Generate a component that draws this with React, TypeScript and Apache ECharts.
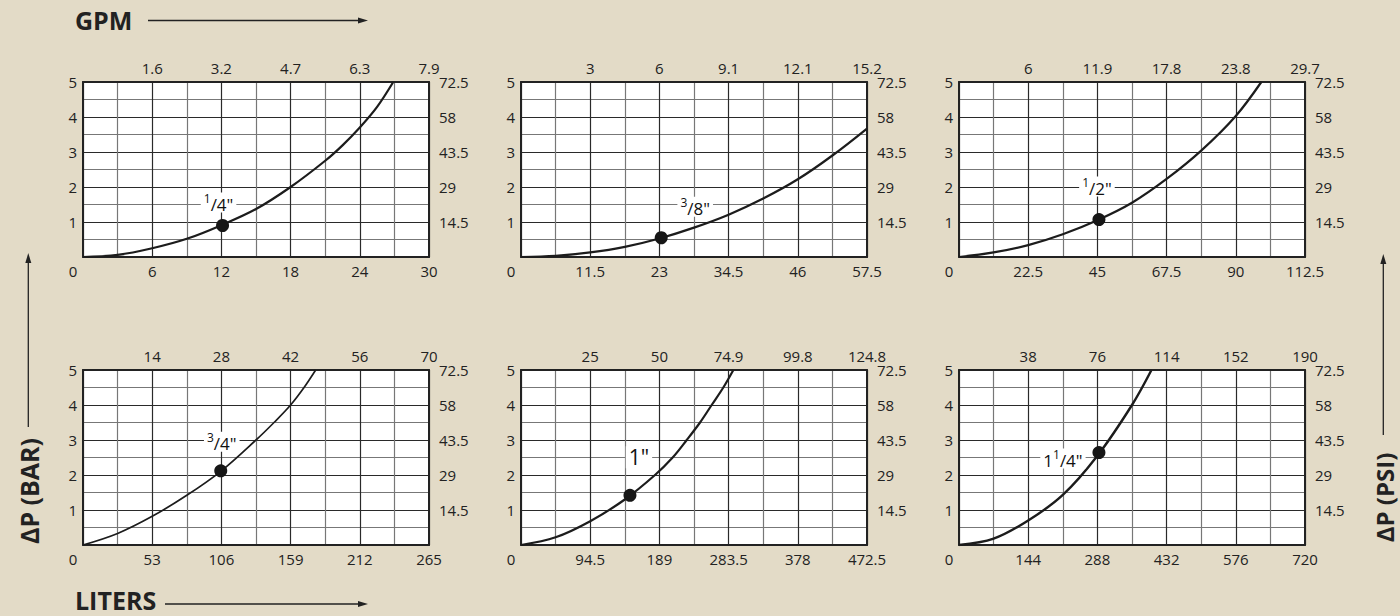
import React, { useEffect, useRef } from "react";
import * as echarts from "echarts";

// Pipe sizes (one panel each)
const sizeLabels = ['1/4"', '3/8"', '1/2"', '3/4"', '1"', '1 1/4"'];

// Bottom axis tick labels (liters) and top axis tick labels (GPM)
const litersTicks14 = ["6", "12", "18", "24", "30"];
const gpmTicks14 = ["1.6", "3.2", "4.7", "6.3", "7.9"];
const litersTicks38 = ["11.5", "23", "34.5", "46", "57.5"];
const gpmTicks38 = ["3", "6", "9.1", "12.1", "15.2"];
const litersTicks12 = ["22.5", "45", "67.5", "90", "112.5"];
const gpmTicks12 = ["6", "11.9", "17.8", "23.8", "29.7"];
const litersTicks34 = ["53", "106", "159", "212", "265"];
const gpmTicks34 = ["14", "28", "42", "56", "70"];
const litersTicks1 = ["94.5", "189", "283.5", "378", "472.5"];
const gpmTicks1 = ["25", "50", "74.9", "99.8", "124.8"];
const litersTicks114 = ["144", "288", "432", "576", "720"];
const gpmTicks114 = ["38", "76", "114", "152", "190"];

// Left (bar) and right (psi) axis tick labels
const barTicks = ["1", "2", "3", "4", "5"];
const psiTicks = ["14.5", "29", "43.5", "58", "72.5"];

// Pressure-drop curves [liters, bar]
const curve14 = [[0, 0], [3, 0.06], [6, 0.25], [9, 0.52], [12, 0.91], [15, 1.37], [18, 2.0], [21, 2.75], [22.5, 3.19], [24, 3.7], [25.5, 4.29], [26.9, 5]];
const curve38 = [[0, 0], [5.75, 0.03], [11.5, 0.13], [17.25, 0.29], [23, 0.53], [28.75, 0.84], [34.5, 1.21], [40.25, 1.67], [46, 2.22], [51.75, 2.9], [57.5, 3.67]];
const curve12 = [[0, 0], [11.25, 0.13], [22.5, 0.34], [33.75, 0.65], [45, 1.05], [56.25, 1.55], [67.5, 2.23], [78.75, 3.04], [90, 4.03], [98.3, 5]];
const curve34 = [[0, 0], [26.5, 0.33], [53, 0.82], [79.5, 1.42], [106, 2.12], [132.5, 3.0], [146.3, 3.5], [159, 4.0], [169.3, 4.5], [178.2, 5]];
const curve1 = [[0, 0], [47.25, 0.22], [94.5, 0.68], [141.75, 1.3], [183, 2.0], [207.1, 2.5], [226.3, 3.0], [244.5, 3.5], [260.4, 4.0], [276.3, 4.5], [290, 5]];
const curve114 = [[0, 0], [72, 0.18], [144, 0.7], [216, 1.43], [288, 2.55], [360, 4.0], [400.5, 5]];

// Rated points (dots) [liters, bar]
const ratedPoints = [[12.1, 0.9], [23.3, 0.55], [45.5, 1.07], [105.5, 2.12], [148.8, 1.42], [291.2, 2.64]];

const litersTicksAll = [litersTicks14, litersTicks38, litersTicks12, litersTicks34, litersTicks1, litersTicks114];
const gpmTicksAll = [gpmTicks14, gpmTicks38, gpmTicks12, gpmTicks34, gpmTicks1, gpmTicks114];
const curvesAll = [curve14, curve38, curve12, curve34, curve1, curve114];

// layout / style (not data)
const gridLefts = [83, 521, 959];
const gridTops = [82, 370];
const GRID_W = 346;
const GRID_H = 175;
const labelOffsets = [[-4, -23], [34, -31], [-2, -33], [1, -29], [9, -38], [-36, 6]];
const lineWidths = [2.2, 2.2, 2.2, 1.7, 2.2, 2.4];

const FONT = '"Open Sans", "Noto Sans", sans-serif';
const TXT = "#222222";
const BG = "#e3dbc7";

function toRich(s: string): string {
  if (s.indexOf("/") < 0) return `{b|${s}}`;
  const parts = s.split(" ");
  const whole = parts.length > 1 ? parts[0] : "";
  const frac = parts[parts.length - 1];
  const [num, denq] = frac.split("/");
  return `${whole ? `{n|${whole}}` : ""}{s|${num}}{n|/${denq}}`;
}

export default function App() {
  const ref = useRef<HTMLDivElement>(null);
  useEffect(() => {
    if (!ref.current) return;
    const chart = echarts.init(ref.current, undefined, { renderer: "svg" });

    const grid: any[] = [];
    const xAxis: any[] = [];
    const yAxis: any[] = [];
    const series: any[] = [];

    const labelBase = { color: TXT, fontSize: 15, fontFamily: FONT };

    for (let i = 0; i < 6; i++) {
      const col = i % 3;
      const row = Math.floor(i / 3);
      const lt = litersTicksAll[i];
      const gt = gpmTicksAll[i];
      const max = parseFloat(lt[lt.length - 1]);
      const step = max / 5;
      grid.push({
        left: gridLefts[col],
        top: gridTops[row],
        width: GRID_W,
        height: GRID_H,
        show: true,
        backgroundColor: "#ffffff",
        borderWidth: 0,
      });
      const axisLine = { show: true, onZero: false, lineStyle: { color: "#222", width: 2 } };
      xAxis.push({
        gridIndex: i,
        type: "value",
        position: "bottom",
        min: 0,
        max,
        interval: step,
        axisLine,
        axisTick: { show: false },
        minorTick: { show: false, splitNumber: 2 },
        splitLine: { show: true, lineStyle: { color: "#2a2a2a", width: 1.2 } },
        minorSplitLine: { show: true, lineStyle: { color: "#777777", width: 1.2 } },
        axisLabel: {
          ...labelBase,
          margin: 6,
          showMinLabel: true,
          showMaxLabel: true,
          formatter: (v: number) => {
            const k = Math.round(v / step);
            if (k === 0) return "{z|0}";
            return lt[k - 1] ?? "";
          },
          rich: { z: { ...labelBase, padding: [0, 20, 0, 0] } },
        },
      });
      xAxis.push({
        gridIndex: i,
        type: "value",
        position: "top",
        min: 0,
        max,
        interval: step,
        axisLine,
        axisTick: { show: false },
        splitLine: { show: false },
        axisLabel: {
          ...labelBase,
          margin: 7,
          showMinLabel: true,
          showMaxLabel: true,
          formatter: (v: number) => {
            const k = Math.round(v / step);
            if (k === 0) return "";
            return gt[k - 1] ?? "";
          },
        },
      });
      yAxis.push({
        gridIndex: i,
        type: "value",
        position: "left",
        min: 0,
        max: 5,
        interval: 1,
        axisLine,
        axisTick: { show: false },
        minorTick: { show: false, splitNumber: 2 },
        splitLine: { show: true, lineStyle: { color: "#2a2a2a", width: 1.2 } },
        minorSplitLine: { show: true, lineStyle: { color: "#777777", width: 1.2 } },
        axisLabel: {
          ...labelBase,
          margin: 6,
          formatter: (v: number) => {
            const k = Math.round(v);
            return k === 0 ? "" : barTicks[k - 1] ?? "";
          },
        },
      });
      yAxis.push({
        gridIndex: i,
        type: "value",
        position: "right",
        min: 0,
        max: 5,
        interval: 1,
        axisLine,
        axisTick: { show: false },
        splitLine: { show: false },
        axisLabel: {
          ...labelBase,
          margin: 10,
          formatter: (v: number) => {
            const k = Math.round(v);
            return k === 0 ? "" : psiTicks[k - 1] ?? "";
          },
        },
      });
      series.push({
        type: "line",
        xAxisIndex: 2 * i,
        yAxisIndex: 2 * i,
        data: curvesAll[i],
        smooth: 0.35,
        showSymbol: false,
        clip: true,
        lineStyle: { color: "#1c1c1c", width: lineWidths[i] },
        silent: true,
      });
      series.push({
        type: "scatter",
        xAxisIndex: 2 * i,
        yAxisIndex: 2 * i,
        data: [ratedPoints[i]],
        symbolSize: 13,
        itemStyle: { color: "#161616", opacity: 1 },
        z: 5,
        label: {
          show: true,
          position: "inside",
          offset: labelOffsets[i],
          formatter: toRich(sizeLabels[i]),
          color: "#111111",
          opacity: 1,
          backgroundColor: "#ffffff",
          padding: [0, 3, 0, 3],
          rich: {
            n: { color: "#111111", fontFamily: FONT, fontSize: 17, lineHeight: 20, verticalAlign: "bottom" },
            s: { color: "#111111", fontFamily: FONT, fontSize: 12, lineHeight: 20, verticalAlign: "top" },
            b: { color: "#111111", fontFamily: FONT, fontSize: 21, lineHeight: 22 },
          },
        },
      });
    }

    const titleFont = { fontFamily: FONT, fontWeight: "bold" as const, fontSize: 25, fill: TXT };
    const graphic: any[] = [
      { type: "text", x: 75, y: 20, style: { ...titleFont, text: "GPM", align: "left", verticalAlign: "middle" } },
      { type: "line", shape: { x1: 148, y1: 20.5, x2: 360, y2: 20.5 }, style: { stroke: TXT, lineWidth: 1.3 } },
      { type: "polygon", shape: { points: [[368, 20.5], [358, 17.5], [358, 23.5]] }, style: { fill: TXT } },
      { type: "text", x: 75, y: 600, style: { ...titleFont, text: "LITERS", align: "left", verticalAlign: "middle" } },
      { type: "line", shape: { x1: 165, y1: 604, x2: 360, y2: 604 }, style: { stroke: TXT, lineWidth: 1.3 } },
      { type: "polygon", shape: { points: [[368, 604], [358, 601], [358, 607]] }, style: { fill: TXT } },
      { type: "text", x: 29, y: 491, rotation: Math.PI / 2, style: { ...titleFont, text: "ΔP (BAR)", align: "center", verticalAlign: "middle" } },
      { type: "line", shape: { x1: 28.3, y1: 260, x2: 28.3, y2: 427 }, style: { stroke: TXT, lineWidth: 1.3 } },
      { type: "polygon", shape: { points: [[28.3, 253], [25.3, 263], [31.3, 263]] }, style: { fill: TXT } },
      { type: "text", x: 1384, y: 497.5, rotation: Math.PI / 2, style: { ...titleFont, fontSize: 24, text: "ΔP (PSI)", align: "center", verticalAlign: "middle" } },
      { type: "line", shape: { x1: 1383.3, y1: 262, x2: 1383.3, y2: 435 }, style: { stroke: TXT, lineWidth: 1.3 } },
      { type: "polygon", shape: { points: [[1383.3, 254], [1380.3, 264], [1386.3, 264]] }, style: { fill: TXT } },
    ];

    chart.setOption({
      animation: false,
      backgroundColor: BG,
      grid,
      xAxis,
      yAxis,
      series,
      graphic,
    });
    return () => chart.dispose();
  }, []);

  return (
    <div
      ref={ref}
      style={{ position: "fixed", left: 0, top: 0, width: 1400, height: 616 }}
    />
  );
}
